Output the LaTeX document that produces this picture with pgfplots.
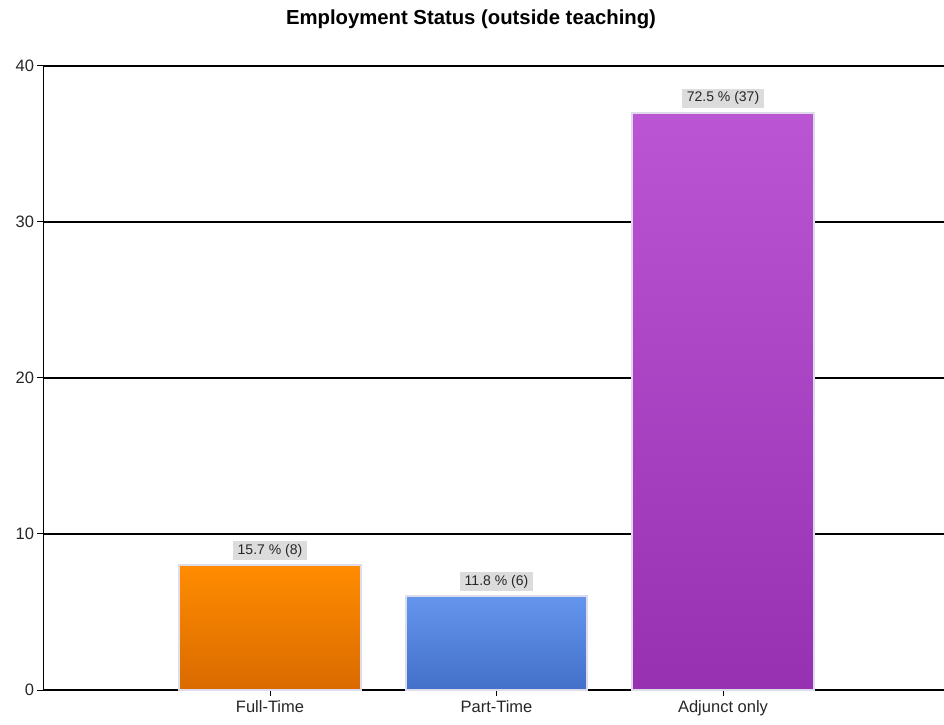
\documentclass[border=0pt]{standalone}
\usepackage{pgfplots}
\pgfplotsset{compat=1.18}
\usepackage{fontspec}
\setmainfont{Liberation Sans}
\definecolor{orT}{RGB}{255,140,0}
\definecolor{orB}{RGB}{218,106,0}
\definecolor{blT}{RGB}{100,149,237}
\definecolor{blB}{RGB}{66,112,200}
\definecolor{puT}{RGB}{186,85,211}
\definecolor{puB}{RGB}{150,50,178}
\definecolor{barline}{RGB}{222,220,236}
\definecolor{lblbg}{RGB}{220,220,220}
\begin{document}
\begin{tikzpicture}
\useasboundingbox (0,0) rectangle (944bp,725bp);
\clip (0,0) rectangle (944bp,725bp);
\begin{axis}[
  at={(43.5bp,35bp)}, anchor=south west,
  scale only axis, width=906bp, height=624bp,
  xmin=0, xmax=4, ymin=0, ymax=40,
  axis x line=bottom, axis y line=left,
  axis line style={-, line width=1.2bp, black},
  xtick={1,2,3}, xticklabels={Full-Time,Part-Time,Adjunct only},
  ytick={0,10,20,30,40},
  tick align=outside, major tick length=6bp,
  tick style={black, line width=1bp},
  ymajorgrids, grid style={black, line width=1.1bp},
  ticklabel style={font=\fontsize{16.5bp}{19bp}\selectfont, text=black!85},
  /pgf/number format/assume math mode=true,
  xticklabel style={yshift=-1bp},
  ybar, bar width=0.8, bar shift=0pt,
  point meta=explicit symbolic,
  nodes near coords,
  nodes near coords style={font=\fontsize{14bp}{16bp}\selectfont, fill=lblbg, inner xsep=5bp, inner ysep=3bp, anchor=south, yshift=4bp, text=black!85},
  clip=false,
]
\addplot[draw=barline, line width=2bp, top color=orT, bottom color=orB] coordinates {(1,8) [15.7 \% (8)]};
\addplot[draw=barline, line width=2bp, top color=blT, bottom color=blB] coordinates {(2,6) [11.8 \% (6)]};
\addplot[draw=barline, line width=2bp, top color=puT, bottom color=puB] coordinates {(3,37) [72.5 \% (37)]};
\end{axis}
\node[font=\bfseries\fontsize{20.3bp}{24bp}\selectfont] at (471bp,706bp) {Employment Status (outside teaching)};
\end{tikzpicture}
\end{document}
